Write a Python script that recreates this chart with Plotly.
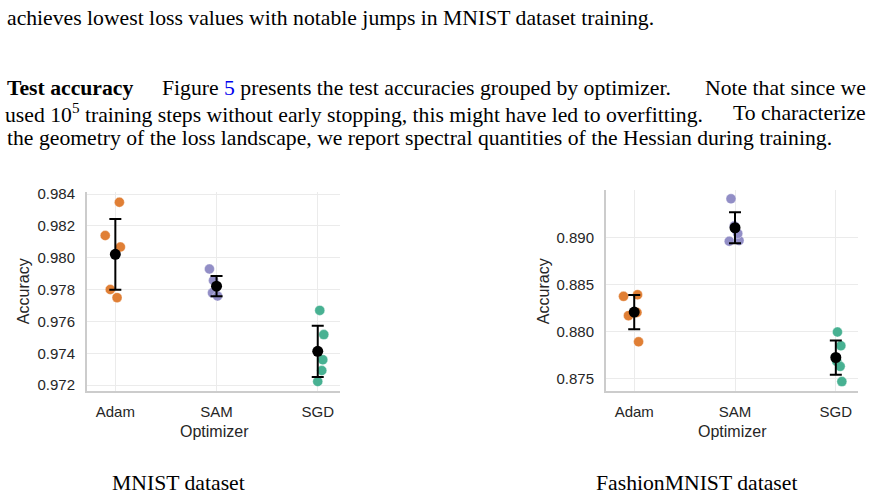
import plotly.graph_objects as go

# ---------------- data ----------------
optimizers = ["Adam", "SAM", "SGD"]
point_colors = ["#e07f35", "#928ec6", "#48b192"]

# MNIST accuracies (5 runs each)
mnist_adam = [0.98349, 0.98140, 0.98068, 0.97801, 0.97750]
mnist_sam = [0.97930, 0.97858, 0.97820, 0.97780, 0.97760]
mnist_sgd = [0.97670, 0.97518, 0.97360, 0.97292, 0.97223]
mnist_mean = [0.98022, 0.97822, 0.97413]
mnist_err = [0.00222, 0.00064, 0.00161]

# FashionMNIST accuracies (5 runs each)
fashion_adam = [0.88372, 0.88389, 0.88167, 0.88201, 0.87889]
fashion_sam = [0.89409, 0.88958, 0.88965, 0.89040, 0.89120]
fashion_sgd = [0.87993, 0.87847, 0.87680, 0.87628, 0.87466]
fashion_mean = [0.88205, 0.89101, 0.87722]
fashion_err = [0.00182, 0.00165, 0.00182]

# strip-plot jitter offsets (category units)
mnist_jitter = [
    [0.04, -0.10, 0.05, -0.05, 0.017],
    [-0.07, -0.03, 0.0, -0.04, 0.01],
    [0.02, 0.06, 0.05, 0.04, 0.0],
]
fashion_jitter = [
    [-0.106, 0.033, -0.057, 0.027, 0.043],
    [-0.04, -0.057, 0.04, 0.027, -0.007],
    [0.016, 0.05, 0.01, 0.043, 0.06],
]

mnist_ticks = [0.972, 0.974, 0.976, 0.978, 0.980, 0.982, 0.984]
fashion_ticks = [0.875, 0.880, 0.885, 0.890]

W, H = 876, 497
fig = go.Figure()

def add_panel(groups, jitters, means, errs, xa, ya):
    for i, (vals, jit) in enumerate(zip(groups, jitters)):
        fig.add_trace(go.Scatter(
            x=[i + j for j in jit], y=vals, mode="markers",
            marker=dict(size=10, color=point_colors[i],
                        line=dict(width=0.6, color="rgba(255,255,255,0.6)")),
            xaxis=xa, yaxis=ya, showlegend=False, hoverinfo="y"))
    fig.add_trace(go.Scatter(
        x=list(range(len(means))), y=means, mode="markers",
        marker=dict(size=11, color="black"),
        error_y=dict(type="data", array=errs, visible=True,
                     color="black", thickness=2, width=6),
        xaxis=xa, yaxis=ya, showlegend=False))

add_panel([mnist_adam, mnist_sam, mnist_sgd], mnist_jitter,
          mnist_mean, mnist_err, "x", "y")
add_panel([fashion_adam, fashion_sam, fashion_sgd], fashion_jitter,
          fashion_mean, fashion_err, "x2", "y2")

tickfont = dict(family="Liberation Sans, Arial, sans-serif", size=15, color="#262626")
common_x = dict(tickmode="array", tickvals=[0, 1, 2], ticktext=optimizers,
                range=[-0.28, 2.22], showgrid=True, gridcolor="#ebebeb", gridwidth=1,
                showline=True, linecolor="#cccccc", linewidth=2, zeroline=False,
                ticks="outside", ticklen=6, tickcolor="rgba(0,0,0,0)",
                tickfont=tickfont)
common_y = dict(showgrid=True, gridcolor="#ebebeb", gridwidth=1,
                showline=True, linecolor="#cccccc", linewidth=2, zeroline=False,
                ticks="outside", ticklen=7, tickcolor="rgba(0,0,0,0)",
                tickfont=tickfont)

fig.update_layout(
    width=W, height=H, margin=dict(l=0, r=0, t=0, b=0),
    paper_bgcolor="white", plot_bgcolor="white",
    xaxis=dict(domain=[87 / W, 340 / W], anchor="y", **common_x),
    yaxis=dict(domain=[1 - 391.7 / H, 1 - 189 / H], anchor="x",
               range=[0.97165, 0.98412], tickvals=mnist_ticks,
               tickformat=".3f", **common_y),
    xaxis2=dict(domain=[606 / W, 858 / W], anchor="y2", **common_x),
    yaxis2=dict(domain=[1 - 391.7 / H, 1 - 186.7 / H], anchor="x2",
                range=[0.87368, 0.89503], tickvals=fashion_ticks,
                tickformat=".3f", **common_y),
)

labfont = dict(family="Liberation Sans, Arial, sans-serif", size=16, color="#262626")
serif = dict(family="Liberation Serif, Times New Roman, serif", size=21.7, color="black")

def ann(text, x, y, font, xanchor="center", yanchor="middle", angle=0):
    fig.add_annotation(text=text, x=x / W, y=1 - y / H, xref="paper", yref="paper",
                       showarrow=False, font=font, xanchor=xanchor, yanchor=yanchor,
                       textangle=angle)

# axis titles
ann("Accuracy", 23, 290, labfont, angle=-90)
ann("Accuracy", 543, 290, labfont, angle=-90)
ann("Optimizer", 214, 433, labfont)
ann("Optimizer", 732, 433, labfont)

# surrounding paper text (justified lines split into pieces)
ann("achieves lowest loss values with notable jumps in MNIST dataset training.", 5, 11, serif, xanchor="left")
ann("<b>Test accuracy</b>", 5, 83, serif, xanchor="left")
ann("Figure <span style='color:#0000ee'>5</span> presents the test accuracies grouped by optimizer.",
    416, 83, serif)
ann("Note that since we", 868, 83, serif, xanchor="right")
ann("used 10<sup>5</sup> training steps without early stopping, this might have led to overfitting.",
    3, 108.5, serif, xanchor="left")
ann("To characterize", 868, 108.5, serif, xanchor="right")
ann("the geometry of the loss landscape, we report spectral quantities of the Hessian during training.",
    5, 134, serif, xanchor="left")
ann("MNIST dataset", 178, 486, serif)
ann("FashionMNIST dataset", 696, 486, serif)

fig.write_html("out.html")
